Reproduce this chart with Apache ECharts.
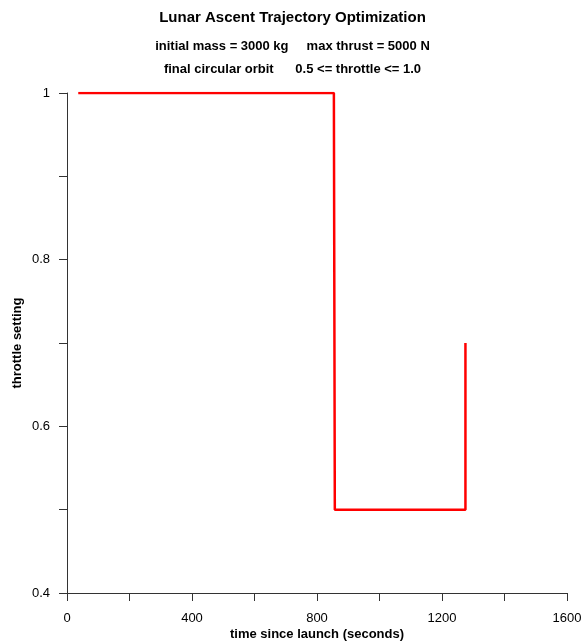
<!DOCTYPE html>
<html>
<head>
<meta charset="utf-8">
<script src="https://cdn.jsdelivr.net/npm/echarts@6/dist/echarts.min.js"></script>
<style>
html,body{margin:0;padding:0;background:#fff;}
#c{width:585px;height:642px;}
</style>
</head>
<body>
<div id="c"></div>
<script>
// Data
const timeSeconds = [36, 854, 857, 1275, 1275];
const throttle = [1.0, 1.0, 0.5, 0.5, 0.7];
const titleText = 'Lunar Ascent Trajectory Optimization';
const subtitleLine1 = 'initial mass = 3000 kg     max thrust = 5000 N';
const subtitleLine2 = 'final circular orbit      0.5 <= throttle <= 1.0';
const xTickLabels = [0, 400, 800, 1200, 1600];
const yTickLabels = [0.4, 0.6, 0.8, 1];

const FONT = 'Liberation Sans, Arial, sans-serif';
const chart = echarts.init(document.getElementById('c'), null, {renderer: 'canvas'});
chart.setOption({
  backgroundColor: '#fff',
  animation: false,
  title: [
    {text: titleText, left: 'center', top: 5,
     textStyle: {fontFamily: FONT, fontSize: 15, fontWeight: 'bold', color: '#000'}},
    {text: subtitleLine1, left: 'center', top: 35,
     textStyle: {fontFamily: FONT, fontSize: 13, fontWeight: 'bold', color: '#000'}},
    {text: subtitleLine2, left: 'center', top: 58,
     textStyle: {fontFamily: FONT, fontSize: 13, fontWeight: 'bold', color: '#000'}}
  ],
  grid: {left: 67, right: 18, top: 93, bottom: 49, containLabel: false, outerBoundsMode: 'none'},
  xAxis: {
    type: 'value', min: 0, max: 1600, interval: 200,
    name: 'time since launch (seconds)', nameLocation: 'middle', nameGap: 35,
    nameMoveOverlap: false,
    nameTextStyle: {fontFamily: FONT, fontSize: 13, fontWeight: 'bold', color: '#000'},
    axisLine: {show: true, onZero: false, lineStyle: {color: '#333', width: 1}},
    axisTick: {show: true, inside: false, length: 8, lineStyle: {color: '#333'}},
    axisLabel: {margin: 19, fontFamily: FONT, fontSize: 13, color: '#000',
      formatter: v => xTickLabels.indexOf(v) >= 0 ? String(v) : ''},
    splitLine: {show: false}
  },
  yAxis: {
    type: 'value', min: 0.4, max: 1.0, interval: 0.1,
    name: 'throttle setting', nameLocation: 'middle', nameGap: 43, nameRotate: 90,
    nameMoveOverlap: false,
    nameTextStyle: {fontFamily: FONT, fontSize: 13, fontWeight: 'bold', color: '#000'},
    axisLine: {show: true, onZero: false, lineStyle: {color: '#333', width: 1}},
    axisTick: {show: true, inside: false, length: 8, lineStyle: {color: '#333'}},
    axisLabel: {margin: 17, fontFamily: FONT, fontSize: 13, color: '#000',
      formatter: v => {
        const r = Math.round(v * 10) / 10;
        return yTickLabels.some(t => Math.abs(t - r) < 1e-9) ? String(r) : '';
      }},
    splitLine: {show: false}
  },
  series: [{
    type: 'line',
    data: timeSeconds.map((t, i) => [t, throttle[i]]),
    showSymbol: false,
    symbol: 'none',
    lineStyle: {color: '#ff0000', width: 2.5},
    z: 3
  }]
});
</script>
</body>
</html>
